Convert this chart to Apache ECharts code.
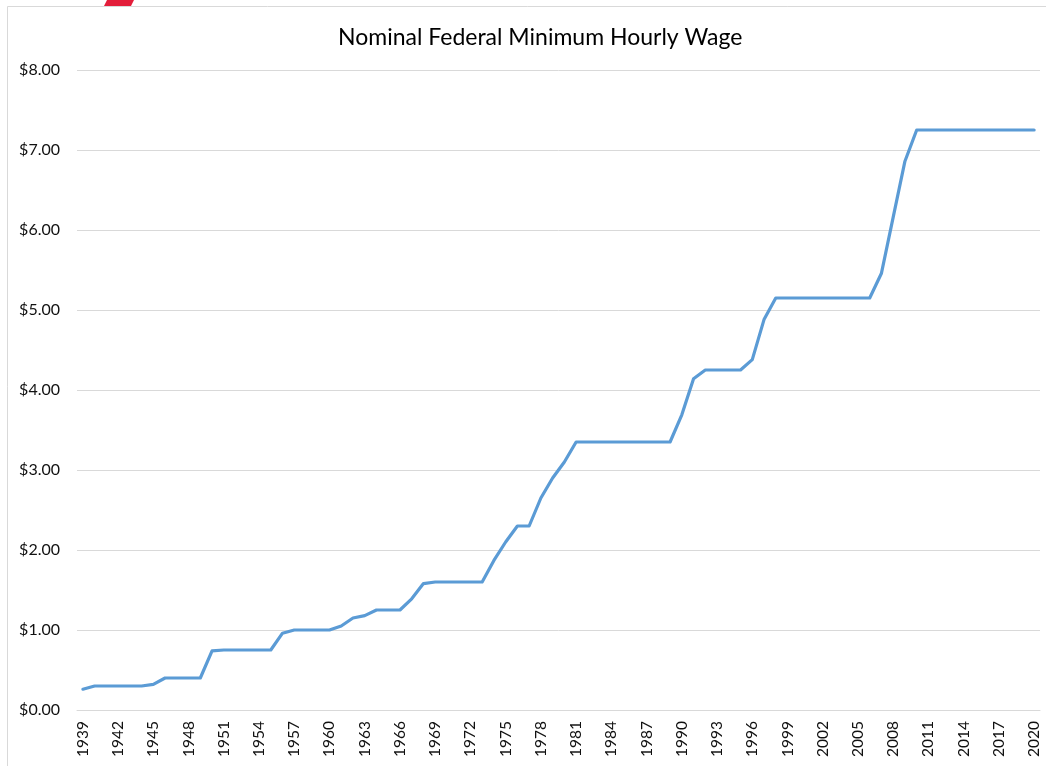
<!DOCTYPE html>
<html>
<head>
<meta charset="utf-8">
<script src="https://cdn.jsdelivr.net/npm/echarts@6/dist/echarts.min.js"></script>
<style>
    html, body { margin: 0; padding: 0; background: #fff; }
    #main { width: 1046px; height: 766px; }
</style>
</head>
<body>
<div id="main"></div>
<script>
// years on the category axis
const years = [];
for (let y = 1939; y <= 2020; y++) years.push(String(y));

// annual average nominal federal minimum wage ($/hour)
const wage = [
    0.26, 0.30, 0.30, 0.30, 0.30, 0.30, 0.32, 0.40, 0.40, 0.40,   // 1939-1948
    0.40, 0.74, 0.75, 0.75, 0.75, 0.75, 0.75, 0.96, 1.00, 1.00,   // 1949-1958
    1.00, 1.00, 1.05, 1.15, 1.18, 1.25, 1.25, 1.25, 1.39, 1.58,   // 1959-1968
    1.60, 1.60, 1.60, 1.60, 1.60, 1.87, 2.10, 2.30, 2.30, 2.65,   // 1969-1978
    2.90, 3.10, 3.35, 3.35, 3.35, 3.35, 3.35, 3.35, 3.35, 3.35,   // 1979-1988
    3.35, 3.69, 4.14, 4.25, 4.25, 4.25, 4.25, 4.38, 4.88, 5.15,   // 1989-1998
    5.15, 5.15, 5.15, 5.15, 5.15, 5.15, 5.15, 5.15, 5.46, 6.16,   // 1999-2008
    6.86, 7.25, 7.25, 7.25, 7.25, 7.25, 7.25, 7.25, 7.25, 7.25,   // 2009-2018
    7.25, 7.25                                                     // 2019-2020
];

const chartTitle = 'Nominal Federal Minimum Hourly Wage';
const font = 'Lato, "Open Sans", sans-serif';

let chart = echarts.init(document.getElementById('main'));
let option = {
    backgroundColor: '#fff',
    animation: false,
    title: {
        text: chartTitle,
        left: 333,
        top: 21,
        textStyle: { fontFamily: font, fontSize: 23, fontWeight: 'normal', color: '#000' }
    },
    grid: { left: 77, right: 6, top: 70, bottom: 56 },
    xAxis: {
        type: 'category',
        data: years,
        boundaryGap: true,
        axisLine: { lineStyle: { color: '#d9d9d9', width: 1 } },
        axisTick: { interval: 2, length: 6, lineStyle: { color: '#d9d9d9' } },
        axisLabel: {
            interval: 2,
            rotate: 90,
            margin: 11,
            color: '#111',
            fontFamily: font,
            fontSize: 15.5
        },
        splitLine: { show: false }
    },
    yAxis: {
        type: 'value',
        min: 0,
        max: 8,
        interval: 1,
        axisLine: { show: false },
        axisTick: { show: false },
        axisLabel: {
            margin: 17,
            color: '#111',
            fontFamily: font,
            fontSize: 16,
            formatter: v => '$' + v.toFixed(2)
        },
        splitLine: { lineStyle: { color: '#d9d9d9', width: 1 } }
    },
    series: [{
        type: 'line',
        data: wage,
        symbol: 'none',
        lineStyle: { color: '#5b9bd5', width: 3.2, cap: 'round', join: 'round' }
    }],
    graphic: [
        {
            type: 'rect',
            shape: { x: 7.5, y: 6.5, width: 1100, height: 800 },
            style: { fill: 'none', stroke: '#d9d9d9', lineWidth: 1 },
            silent: true
        },
        {
            type: 'polygon',
            shape: { points: [[107, 0], [134, 0], [131, 6], [104, 6]] },
            style: { fill: '#e31e3a' },
            silent: true
        }
    ]
};
chart.setOption(option);
</script>
</body>
</html>
